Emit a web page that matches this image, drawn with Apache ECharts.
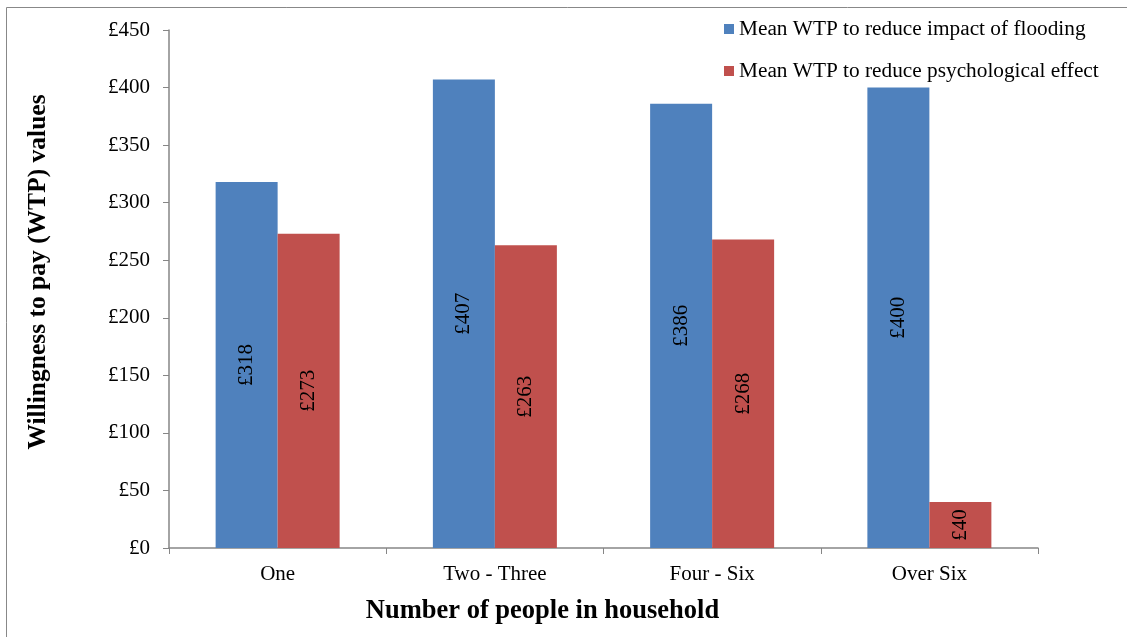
<!DOCTYPE html>
<html>
<head>
<meta charset="utf-8">
<script src="https://cdn.jsdelivr.net/npm/echarts@6/dist/echarts.min.js"></script>
<style>
  html, body { margin: 0; padding: 0; background: #fff; }
  #chart { width: 1127px; height: 637px; }
</style>
</head>
<body>
<div id="chart"></div>
<script>
// Household size groups and mean willingness-to-pay values (GBP)
const categories = ['One', 'Two - Three', 'Four - Six', 'Over Six'];
const floodingWTP = [318, 407, 386, 400];
const psychologicalWTP = [273, 263, 268, 40];
const seriesNames = ['Mean WTP to reduce impact of flooding', 'Mean WTP to reduce psychological effect'];

const FONT = '"Liberation Serif", "Times New Roman", serif';
const AXIS_GREY = '#868686';

const chart = echarts.init(document.getElementById('chart'), null, { renderer: 'canvas' });

const valueLabel = {
  show: true,
  position: 'inside',
  rotate: 90,
  color: '#000',
  fontFamily: FONT,
  fontSize: 21,
  formatter: p => '£' + p.value
};

chart.setOption({
  backgroundColor: '#fff',
  animation: false,
  textStyle: { fontFamily: FONT },
  graphic: [{
    type: 'rect',
    shape: { x: 6.5, y: 7.5, width: 1200, height: 700 },
    style: { fill: 'none', stroke: '#888', lineWidth: 1 },
    silent: true,
    z: -1
  }],
  legend: {
    orient: 'vertical',
    left: 724,
    top: 18,
    padding: 0,
    itemWidth: 10,
    itemHeight: 10,
    itemGap: 20,
    icon: 'rect',
    textStyle: { fontFamily: FONT, fontSize: 21.3, color: '#000', lineHeight: 22 },
    data: seriesNames
  },
  grid: { left: 169, top: 30, right: 89, bottom: 89, containLabel: false },
  xAxis: {
    type: 'category',
    data: categories,
    name: 'Number of people in household',
    nameLocation: 'middle',
    nameGap: 50,
    nameTextStyle: { fontFamily: FONT, fontSize: 26.5, fontWeight: 'bold', color: '#000', padding: [0, 122, 0, 0] },
    axisLine: { lineStyle: { color: AXIS_GREY, width: 1.5 } },
    axisTick: { show: true, alignWithLabel: false, length: 6, lineStyle: { color: AXIS_GREY } },
    axisLabel: { fontFamily: FONT, fontSize: 21, color: '#000', margin: 16 }
  },
  yAxis: {
    type: 'value',
    min: 0,
    max: 450,
    interval: 50,
    name: 'Willingness to pay (WTP) values',
    nameLocation: 'middle',
    nameGap: 118,
    nameTextStyle: { fontFamily: FONT, fontSize: 25.5, fontWeight: 'bold', color: '#000', padding: [0, 0, 0, 34] },
    axisLine: { show: true, lineStyle: { color: AXIS_GREY, width: 1.5 } },
    axisTick: { show: true, length: 6, lineStyle: { color: AXIS_GREY } },
    splitLine: { show: false },
    axisLabel: { fontFamily: FONT, fontSize: 21, color: '#000', margin: 19, formatter: v => '£' + v }
  },
  series: [
    {
      name: seriesNames[0],
      type: 'bar',
      data: floodingWTP,
      barWidth: 62,
      barGap: '0%',
      itemStyle: { color: '#4F81BD' },
      label: valueLabel
    },
    {
      name: seriesNames[1],
      type: 'bar',
      data: psychologicalWTP,
      barWidth: 62,
      barGap: '0%',
      itemStyle: { color: '#C0504D' },
      label: valueLabel
    }
  ]
});
</script>
</body>
</html>
